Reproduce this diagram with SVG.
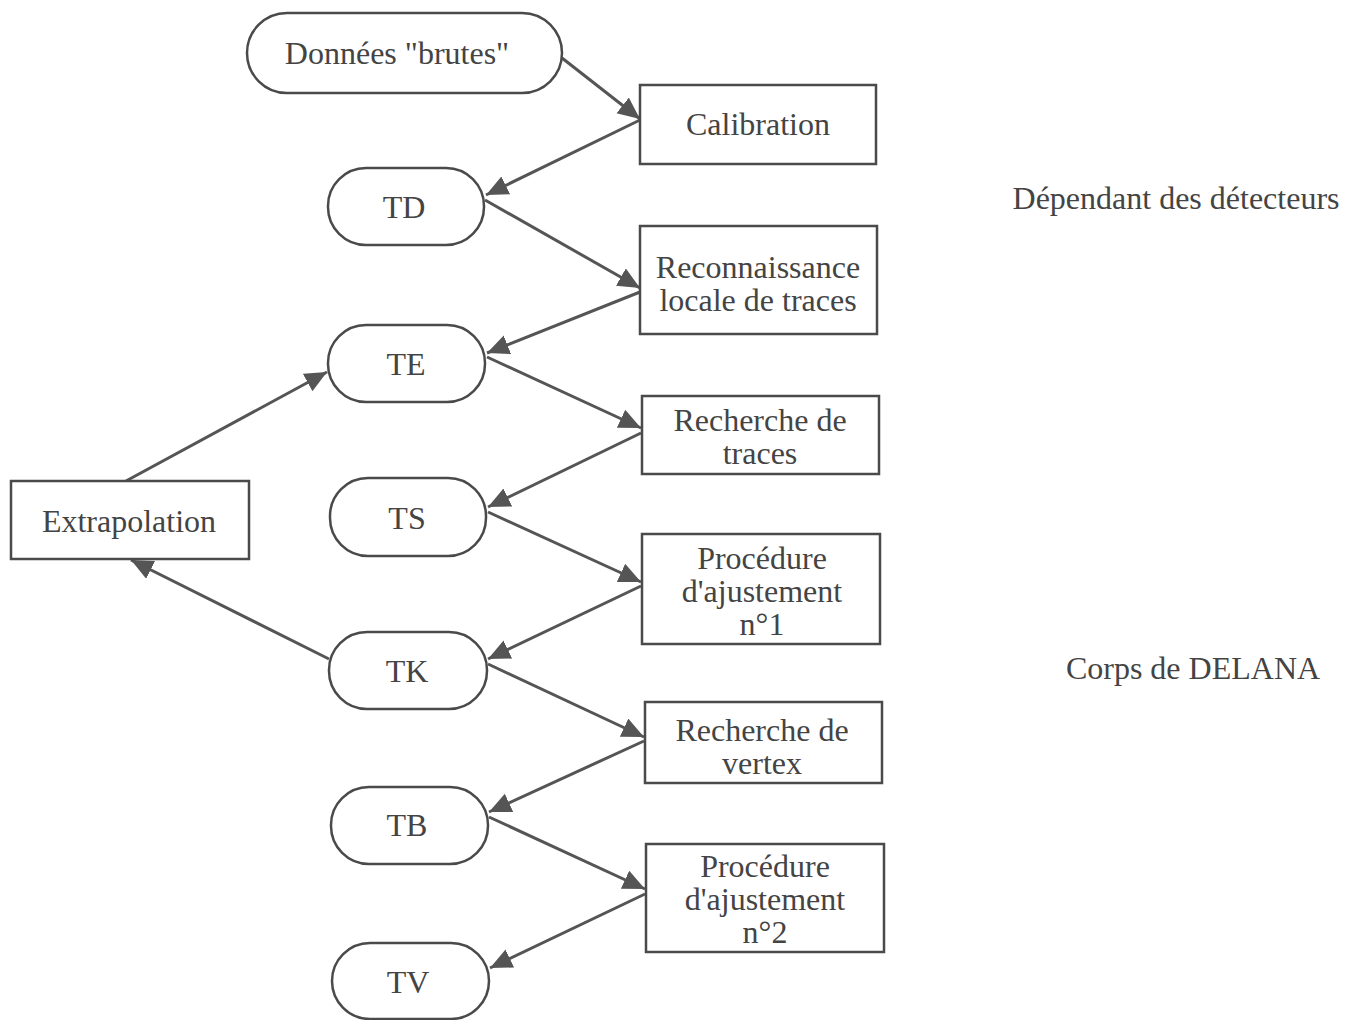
<svg xmlns="http://www.w3.org/2000/svg" width="1353" height="1020" viewBox="0 0 1353 1020">
  <style>
    .box { fill: #ffffff; stroke: #4a4a4a; stroke-width: 2.5; }
    .lbl { font-family: "Liberation Serif", "Times New Roman", serif; font-size: 32px; fill: #444444; text-anchor: middle; }
    .edge { stroke: #555555; stroke-width: 3; fill: none; marker-end: url(#head); }
  </style>
  <defs>
    <marker id="head" markerUnits="userSpaceOnUse" markerWidth="24" markerHeight="22" refX="22" refY="10" orient="auto">
      <path d="M0,0 L22,10 L0,20 Z" fill="#555555"/>
    </marker>
  </defs>
  <rect width="1353" height="1020" fill="#ffffff"/>

  <g id="connectors">
    <line class="edge" x1="562" y1="58" x2="640" y2="119"/>
    <line class="edge" x1="640" y1="120" x2="486" y2="195"/>
    <line class="edge" x1="485" y1="200" x2="640" y2="288"/>
    <line class="edge" x1="640" y1="292" x2="487" y2="353"/>
    <line class="edge" x1="487" y1="357" x2="641" y2="428"/>
    <line class="edge" x1="641" y1="433" x2="488" y2="507"/>
    <line class="edge" x1="488" y1="512" x2="641" y2="582"/>
    <line class="edge" x1="641" y1="586" x2="488" y2="659"/>
    <line class="edge" x1="488" y1="664" x2="644" y2="737"/>
    <line class="edge" x1="644" y1="741" x2="489" y2="812"/>
    <line class="edge" x1="489" y1="817" x2="645" y2="889"/>
    <line class="edge" x1="645" y1="894" x2="490" y2="968"/>
    <line class="edge" x1="126" y1="481" x2="327" y2="372"/>
    <line class="edge" x1="329" y1="659" x2="131" y2="560"/>
  </g>

  <g id="donnees-brutes">
    <rect class="box" x="247" y="13" width="315" height="80" rx="40" ry="40"/>
    <text class="lbl" x="397" y="64">Données "brutes"</text>
  </g>
  <g id="calibration">
    <rect class="box" x="640" y="85" width="236" height="79"/>
    <text class="lbl" x="758" y="135">Calibration</text>
  </g>
  <g id="td">
    <rect class="box" x="328" y="168" width="156" height="77" rx="38" ry="38"/>
    <text class="lbl" x="404" y="218">TD</text>
  </g>
  <g id="reconnaissance">
    <rect class="box" x="640" y="226" width="237" height="108"/>
    <text class="lbl" x="758" y="278">Reconnaissance<tspan x="758" dy="33">locale de traces</tspan></text>
  </g>
  <g id="te">
    <rect class="box" x="328" y="325" width="157" height="77" rx="38" ry="38"/>
    <text class="lbl" x="406" y="375">TE</text>
  </g>
  <g id="recherche-traces">
    <rect class="box" x="642" y="396" width="237" height="78"/>
    <text class="lbl" x="760" y="431">Recherche de<tspan x="760" dy="33">traces</tspan></text>
  </g>
  <g id="ts">
    <rect class="box" x="330" y="478" width="156" height="78" rx="38" ry="38"/>
    <text class="lbl" x="407" y="529">TS</text>
  </g>
  <g id="extrapolation">
    <rect class="box" x="11" y="481" width="238" height="78"/>
    <text class="lbl" x="129" y="532">Extrapolation</text>
  </g>
  <g id="ajustement-1">
    <rect class="box" x="642" y="534" width="238" height="110"/>
    <text class="lbl" x="762" y="569">Procédure<tspan x="762" dy="33">d'ajustement</tspan><tspan x="762" dy="33">n°1</tspan></text>
  </g>
  <g id="tk">
    <rect class="box" x="329" y="632" width="158" height="77" rx="38" ry="38"/>
    <text class="lbl" x="407" y="682">TK</text>
  </g>
  <g id="recherche-vertex">
    <rect class="box" x="645" y="702" width="237" height="81"/>
    <text class="lbl" x="762" y="741">Recherche de<tspan x="762" dy="33">vertex</tspan></text>
  </g>
  <g id="tb">
    <rect class="box" x="331" y="787" width="157" height="77" rx="38" ry="38"/>
    <text class="lbl" x="407" y="836">TB</text>
  </g>
  <g id="ajustement-2">
    <rect class="box" x="646" y="844" width="238" height="108"/>
    <text class="lbl" x="765" y="877">Procédure<tspan x="765" dy="33">d'ajustement</tspan><tspan x="765" dy="33">n°2</tspan></text>
  </g>
  <g id="tv">
    <rect class="box" x="332" y="943" width="157" height="76" rx="38" ry="38"/>
    <text class="lbl" x="408" y="993">TV</text>
  </g>

  <g id="annotations">
    <text class="lbl" x="1176" y="209">Dépendant des détecteurs</text>
    <text class="lbl" x="1193" y="679">Corps de DELANA</text>
  </g>
</svg>
